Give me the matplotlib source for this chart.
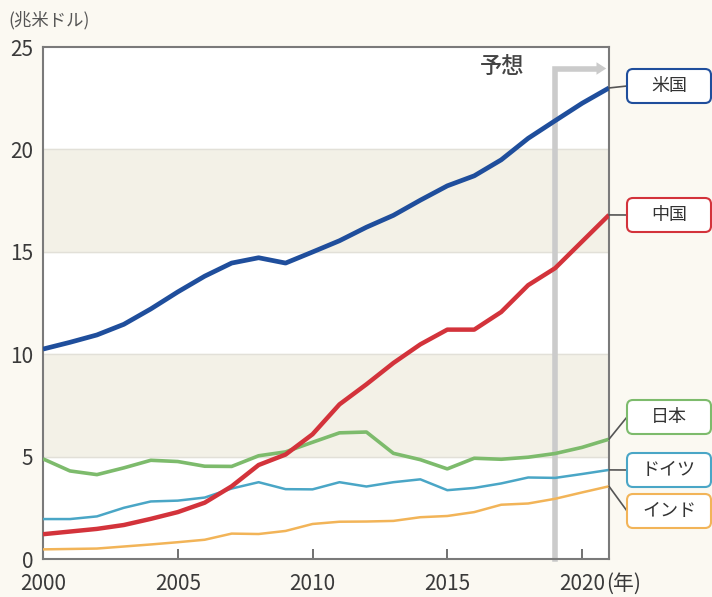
import numpy as np
import matplotlib.pyplot as plt
from matplotlib.patches import FancyBboxPatch

plt.rcParams['font.family'] = ['Noto Sans CJK JP', 'DejaVu Sans']

years = list(range(2000, 2022))
usa = [10.25, 10.58, 10.94, 11.46, 12.21, 13.04, 13.81, 14.45, 14.71, 14.45, 14.99,
       15.54, 16.20, 16.78, 17.52, 18.22, 18.71, 19.49, 20.54, 21.40, 22.25, 23.0]
china = [1.21, 1.34, 1.47, 1.66, 1.96, 2.29, 2.75, 3.55, 4.59, 5.10, 6.09,
         7.55, 8.53, 9.57, 10.48, 11.20, 11.20, 12.06, 13.37, 14.2, 15.5, 16.8]
japan = [4.89, 4.30, 4.12, 4.45, 4.82, 4.76, 4.53, 4.52, 5.04, 5.23, 5.70,
         6.16, 6.20, 5.16, 4.85, 4.40, 4.92, 4.87, 4.97, 5.15, 5.45, 5.85]
germany = [1.95, 1.95, 2.08, 2.50, 2.81, 2.85, 3.00, 3.44, 3.75, 3.41, 3.40,
           3.75, 3.54, 3.75, 3.89, 3.36, 3.47, 3.69, 3.98, 3.96, 4.15, 4.35]
india = [0.47, 0.49, 0.51, 0.61, 0.71, 0.82, 0.94, 1.24, 1.22, 1.37, 1.71,
         1.82, 1.83, 1.86, 2.04, 2.10, 2.29, 2.65, 2.71, 2.94, 3.25, 3.55]

names = ['米国', '中国', '日本', 'ドイツ', 'インド']
series = [usa, china, japan, germany, india]
colors = ['#1f4e9c', '#d3333b', '#7dbb6c', '#4aa6c6', '#f2b458']
widths = [3.4, 3.2, 2.6, 1.8, 1.8]
# legend box centres (pixels from top)
box_y = [86, 215, 417, 470, 511]

yticks = [0, 5, 10, 15, 20, 25]
xticks = [2000, 2005, 2010, 2015, 2020]
xlabels = ['2000', '2005', '2010', '2015', '2020']
forecast_year = 2019

W, H = 712, 597
fig = plt.figure(figsize=(W / 100, H / 100), dpi=100, facecolor='#fbf9f2')
ax = fig.add_axes([43 / W, 1 - 559 / H, (609 - 43) / W, (559 - 47) / H])
ax.set_facecolor('white')

for lo in (5, 15):
    ax.axhspan(lo, lo + 5, color='#f3f1e7', zorder=0)
for y in (5, 10, 15, 20):
    ax.axhline(y, color='#e2e0d8', lw=1, zorder=0.5)

# forecast marker
ax.plot([forecast_year, forecast_year, 2020.6], [0, 23.95, 23.95],
        color='#cbcbcb', lw=4, solid_joinstyle='miter', zorder=1, clip_on=False)
ax.annotate('', xy=(2021.0, 23.95), xytext=(2020.3, 23.95),
            arrowprops=dict(arrowstyle='-|>,head_length=0.7,head_width=0.45',
                            color='#cbcbcb', lw=0), zorder=1)
ax.text(2017.05, 24.05, '予想', fontsize=16, color='#444444',
        ha='center', va='center', fontweight='medium')

for vals, c, lw in zip(series[::-1], colors[::-1], widths[::-1]):
    ax.plot(years, vals, color=c, lw=lw, zorder=3, solid_capstyle='butt')

ax.set_xlim(2000, 2021)
ax.set_ylim(0, 25)
ax.set_xticks(xticks)
ax.set_xticklabels(xlabels)
ax.set_yticks(yticks)
ax.tick_params(axis='x', direction='in', length=7, width=1.3, color='#666666',
               labelsize=15, labelcolor='#3a3a3a', pad=10)
ax.tick_params(axis='y', length=0, labelsize=15, labelcolor='#3a3a3a', pad=7)
for s in ax.spines.values():
    s.set_color('#7a7a7a')
    s.set_linewidth(1.5)

# year unit after the last tick label
ax.annotate('(年)', xy=(2020, 0), xycoords='data', xytext=(24, -10 * 100 / 72),
            textcoords='offset pixels', fontsize=15, color='#3a3a3a',
            ha='left', va='top', annotation_clip=False)

fig.text(8 / W, 1 - 20 / H, '(兆米ドル)', fontsize=12.5, color='#555555',
         ha='left', va='center')

# legend boxes with connectors
for name, vals, c, by in zip(names, series, colors, box_y):
    x0, w, h = 627, 84, 34
    box = FancyBboxPatch((x0 / 100, (H - by - h / 2) / 100), w / 100, h / 100,
                         boxstyle='round,pad=0,rounding_size=0.06',
                         transform=fig.dpi_scale_trans, facecolor='white',
                         edgecolor=c, lw=1.5)
    fig.add_artist(box)
    fig.text((x0 + w / 2) / W, 1 - by / H, name, fontsize=13, color='#333333',
             ha='center', va='center')
    ax.annotate('', xy=(2021, vals[-1]), xycoords='data',
                xytext=(x0, H - by), textcoords='figure pixels',
                arrowprops=dict(arrowstyle='-', color='#555555', lw=1.2,
                                shrinkA=0, shrinkB=0),
                annotation_clip=False)

fig.savefig('out.png', dpi=100, facecolor=fig.get_facecolor())
